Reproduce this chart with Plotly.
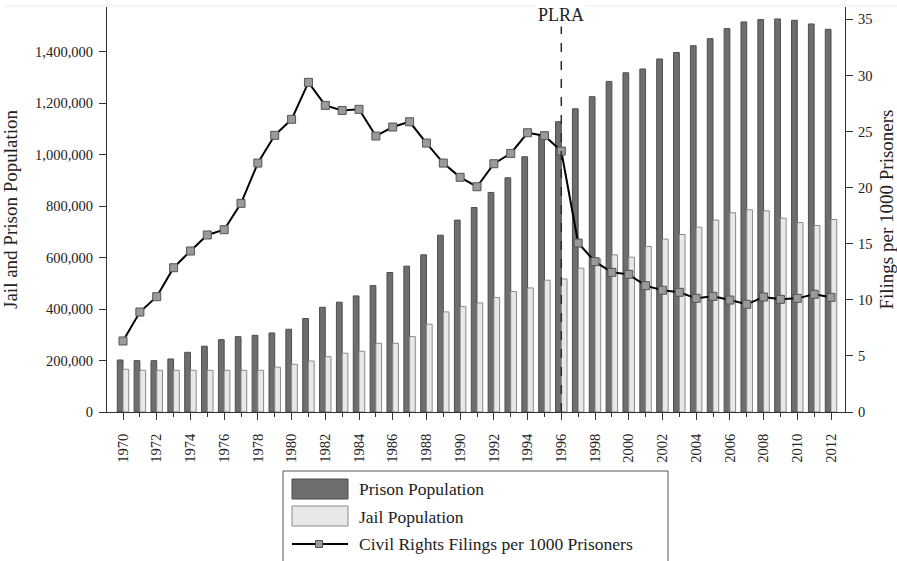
import plotly.graph_objects as go

years = list(range(1970, 2013))

prison_pop = [202000, 199500, 199500, 206000, 232000, 255500, 281000, 292700, 298000, 307000,
              321500, 363000, 407000, 426600, 451000, 491000, 542000, 566600, 610600, 687000,
              745500, 794500, 853000, 910000, 991700, 1073000, 1127800, 1178000, 1225000, 1284500,
              1318000, 1332700, 1371600, 1397000, 1423000, 1450600, 1489500, 1515500, 1524500, 1527000,
              1521800, 1507600, 1486800]

jail_pop = [166000, 162000, 162000, 162000, 162000, 162000, 162000, 162000, 162000, 174000,
            185500, 198000, 215000, 228500, 236000, 267000, 267000, 293000, 341000, 389000,
            409500, 424000, 444500, 468000, 482000, 512000, 517000, 559000, 595000, 610600,
            601600, 643000, 671600, 689600, 718000, 745500, 774000, 785600, 781700, 753000,
            736000, 724500, 748000]

filings = [6.33, 8.91, 10.28, 12.86, 14.35, 15.78, 16.25, 18.6, 22.19, 24.66,
           26.09, 29.38, 27.33, 26.88, 26.98, 24.6, 25.4, 25.87, 23.97, 22.19,
           20.92, 20.08, 22.13, 23.05, 24.89, 24.63, 23.26, 15.06, 13.4, 12.45,
           12.27, 11.26, 10.85, 10.67, 10.13, 10.31, 9.98, 9.6, 10.25, 10.04,
           10.13, 10.49, 10.22]

left_ticks = [0, 200000, 400000, 600000, 800000, 1000000, 1200000, 1400000]
left_tick_text = ["0", "200,000", "400,000", "600,000", "800,000", "1,000,000", "1,200,000", "1,400,000"]
right_ticks = [0, 5, 10, 15, 20, 25, 30, 35]
x_ticks = list(range(1970, 2013, 2))

legend_labels = ["Prison Population", "Jail Population", "Civil Rights Filings per 1000 Prisoners"]

FONT = "Liberation Serif"
TEXT = "#222222"
PRISON_FILL = "#6e6e6e"
PRISON_LINE = "#4d4d4d"
JAIL_FILL = "#e8e8e8"
JAIL_LINE = "#8a8a8a"

# plot area in pixels
L, R, T, B = 107, 845, 7, 412
W, H = 897, 561


def px(xp):
    return (xp - L) / (R - L)


def py(yp):
    return (B - yp) / (B - T)


fig = go.Figure()
fig.add_trace(go.Bar(x=years, y=prison_pop, name=legend_labels[0],
                     marker=dict(color=PRISON_FILL, line=dict(color=PRISON_LINE, width=1)),
                     yaxis="y"))
fig.add_trace(go.Bar(x=years, y=jail_pop, name=legend_labels[1],
                     marker=dict(color=JAIL_FILL, line=dict(color=JAIL_LINE, width=1)),
                     yaxis="y"))
fig.add_trace(go.Scatter(x=years, y=filings, name=legend_labels[2], mode="lines+markers",
                         line=dict(color="black", width=2),
                         marker=dict(symbol="square", size=8, color="#9a9a9a",
                                     line=dict(color="#555555", width=1)),
                         yaxis="y2"))

shapes = []
# faint top border line
shapes.append(dict(type="line", xref="paper", yref="paper", x0=px(4), x1=px(897), y0=py(6), y1=py(6),
                   line=dict(color="#e4eeee", width=1), layer="below"))
# PLRA dashed line
shapes.append(dict(type="line", xref="x", yref="paper", x0=1996, x1=1996, y0=0, y1=py(23),
                   line=dict(color="#2a2a2a", width=1.5, dash="dash")))
# legend box
shapes.append(dict(type="rect", xref="paper", yref="paper", x0=px(283), x1=px(668), y0=py(471), y1=py(600),
                   line=dict(color="#555555", width=1), fillcolor="white"))
# legend swatches
shapes.append(dict(type="rect", xref="paper", yref="paper", x0=px(292), x1=px(348), y0=py(479), y1=py(499),
                   line=dict(color=PRISON_LINE, width=1), fillcolor=PRISON_FILL))
shapes.append(dict(type="rect", xref="paper", yref="paper", x0=px(292), x1=px(348), y0=py(506), y1=py(526),
                   line=dict(color=JAIL_LINE, width=1), fillcolor=JAIL_FILL))
shapes.append(dict(type="line", xref="paper", yref="paper", x0=px(292), x1=px(348), y0=py(544), y1=py(544),
                   line=dict(color="black", width=2)))
shapes.append(dict(type="rect", xref="paper", yref="paper", x0=px(315.5), x1=px(322.5), y0=py(540.5), y1=py(547.5),
                   line=dict(color="#555555", width=1), fillcolor="#9a9a9a"))

annotations = [
    dict(text="PLRA", xref="x", yref="paper", x=1996, y=py(15), showarrow=False,
         font=dict(family=FONT, size=18, color=TEXT), bgcolor="white",
         xanchor="center", yanchor="middle"),
]
for label, yy in zip(legend_labels, [489, 517, 544]):
    annotations.append(dict(text=label, xref="paper", yref="paper", x=px(357), y=py(yy),
                            showarrow=False, xanchor="left", yanchor="middle",
                            font=dict(family=FONT, size=17.5, color=TEXT)))

fig.update_layout(
    width=W, height=H,
    margin=dict(l=L, r=W - R, t=T, b=H - B),
    paper_bgcolor="white", plot_bgcolor="white",
    barmode="group", bargap=0.32, bargroupgap=0,
    showlegend=False,
    font=dict(family=FONT, size=14, color=TEXT),
    xaxis=dict(range=[1969.05, 2012.83], tickmode="array", tickvals=x_ticks,
               ticktext=[str(y) for y in x_ticks], tickangle=-90, automargin=False,
               ticks="outside", ticklen=7, tickcolor="#333333", showline=True, linecolor="#333333",
               linewidth=1, showgrid=False, zeroline=False, ticklabelstandoff=8,
               minor=dict(tickmode="array", tickvals=years, ticks="outside", ticklen=4,
                          tickcolor="#333333", showgrid=False),
               tickfont=dict(family=FONT, size=14.5)),
    yaxis=dict(range=[0, 1573500], tickmode="array", tickvals=left_ticks, ticktext=left_tick_text,
               ticks="outside", ticklen=7, tickcolor="#333333", showline=True, linecolor="#333333",
               linewidth=1, showgrid=False, zeroline=False, automargin=False, ticklabelstandoff=3,
               title=dict(text="Jail and Prison Population", font=dict(family=FONT, size=19)),
               tickfont=dict(family=FONT, size=14.5)),
    yaxis2=dict(range=[0, 36.1], overlaying="y", side="right", tickmode="array", tickvals=right_ticks,
                ticks="outside", ticklen=7, tickcolor="#333333", showline=True, linecolor="#333333",
                linewidth=1, showgrid=False, zeroline=False, automargin=False, ticklabelstandoff=2,
                title=dict(text="Filings per 1000 Prisoners", font=dict(family=FONT, size=19)),
                tickfont=dict(family=FONT, size=14.5)),
    shapes=shapes,
    annotations=annotations,
)

fig.write_html("out.html", config={"displayModeBar": False},
               post_script="document.body.style.margin='0px';")
